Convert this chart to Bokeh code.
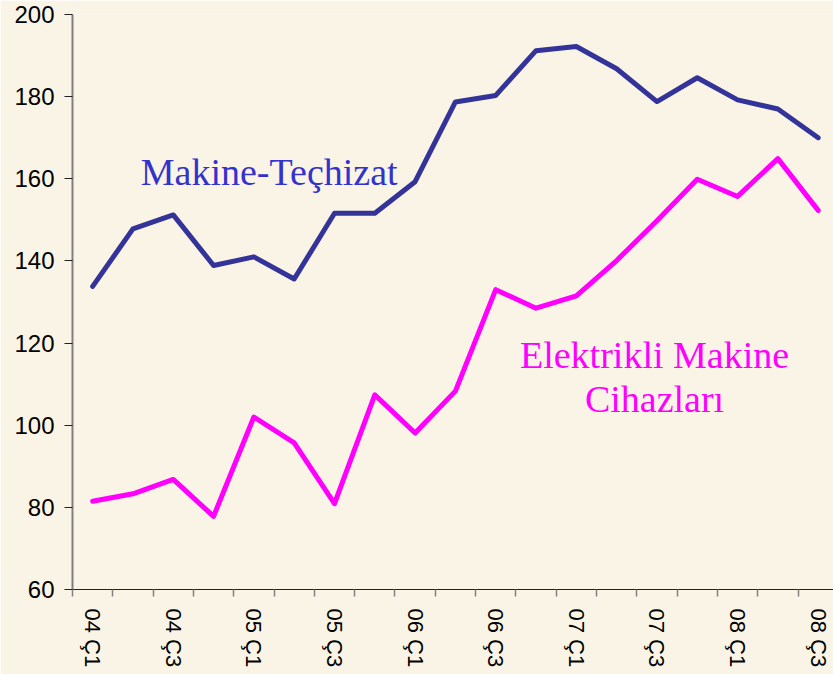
from bokeh.plotting import figure
from bokeh.models import FixedTicker, Range1d
from bokeh.core.properties import value
from bokeh.embed import file_html
from bokeh.resources import INLINE

quarters = ["04 Ç1", "04 Ç2", "04 Ç3", "04 Ç4", "05 Ç1", "05 Ç2", "05 Ç3", "05 Ç4",
            "06 Ç1", "06 Ç2", "06 Ç3", "06 Ç4", "07 Ç1", "07 Ç2", "07 Ç3", "07 Ç4",
            "08 Ç1", "08 Ç2", "08 Ç3"]
makine = [133.8, 147.8, 151.2, 138.9, 141.0, 135.6, 151.6, 151.6, 159.3, 178.7,
          180.3, 191.2, 192.2, 186.8, 178.8, 184.6, 179.2, 177.0, 170.0]
elektrikli = [81.5, 83.3, 86.8, 77.8, 102.0, 95.7, 80.9, 107.4, 98.1, 108.3,
              133.0, 128.5, 131.5, 140.1, 149.8, 159.9, 155.7, 164.9, 152.3]
y_ticks = [60, 80, 100, 120, 140, 160, 180, 200]

xs = list(range(len(quarters)))
bg = "#FAF4E6"

p = figure(width=833, height=674, output_backend="svg", toolbar_location=None,
           x_range=Range1d(-0.5, 18.38), y_range=Range1d(60, 200),
           min_border_left=72, min_border_right=0, min_border_top=14, min_border_bottom=85,
           background_fill_color=bg, border_fill_color=bg)
p.outline_line_color = None
p.grid.visible = False

p.line(xs, makine, line_color="#333399", line_width=5, line_join="round", line_cap="round")
p.line(xs, elektrikli, line_color="#FF00FF", line_width=5, line_join="round", line_cap="round")

p.text(x=[4.38], y=[161.7], text=["Makine-Teçhizat"], text_color="#3333CC",
       text_font=value("Liberation Serif"), text_font_size="38px",
       text_align="center", text_baseline="alphabetic")
p.text(x=[13.94, 13.94], y=[117.2, 106.3], text=["Elektrikli Makine", "Cihazları"],
       text_color="#FF00FF", text_font=value("Liberation Serif"), text_font_size="38px",
       text_align="center", text_baseline="alphabetic")

# x axis
p.xaxis.ticker = FixedTicker(ticks=xs[::2], minor_ticks=[i - 0.5 for i in range(len(quarters) + 1)])
p.xaxis.major_label_overrides = {i: quarters[i] for i in xs[::2]}
p.xaxis.major_label_orientation = "vertical"
p.xaxis.major_tick_line_color = None
p.xaxis.minor_tick_in = 0
p.xaxis.minor_tick_out = 7
p.xaxis.minor_tick_line_color = "#808080"
p.xaxis.minor_tick_line_width = 1.5
p.xaxis.axis_line_color = "#222222"
p.xaxis.axis_line_width = 1.2
p.xaxis.major_label_text_font = "Liberation Sans"
p.xaxis.major_label_text_font_size = "22px"
p.xaxis.major_label_text_color = "black"
p.xaxis.major_label_standoff = 12

# y axis
p.yaxis.ticker = FixedTicker(ticks=y_ticks, minor_ticks=[])
p.yaxis.axis_line_color = "#7F7F7F"
p.yaxis.axis_line_width = 2
p.yaxis.major_tick_in = 0
p.yaxis.major_tick_out = 8
p.yaxis.major_tick_line_color = "#222222"
p.yaxis.major_tick_line_width = 1.2
p.yaxis.major_label_text_font = "Liberation Sans"
p.yaxis.major_label_text_font_size = "24px"
p.yaxis.major_label_text_color = "black"
p.yaxis.major_label_standoff = 10

open("out.html", "w").write(file_html(p, INLINE))
